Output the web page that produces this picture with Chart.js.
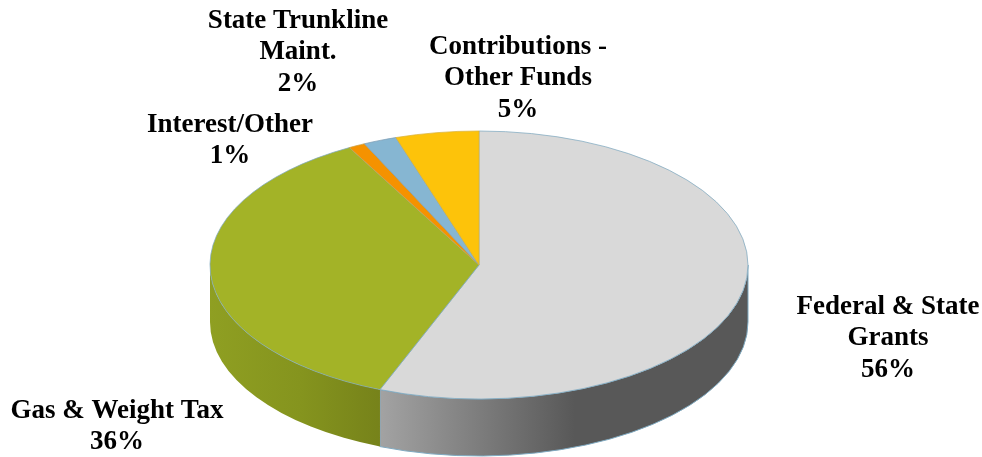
<!DOCTYPE html>
<html>
<head>
<meta charset="utf-8">
<title>Revenue sources</title>
<style>
  html, body { margin: 0; padding: 0; background: #fff; }
  #wrap { position: relative; width: 982px; height: 457px; }
</style>
<script src="https://cdn.jsdelivr.net/npm/chart.js@4"></script>
</head>
<body>
<div id="wrap"><canvas id="pie"></canvas></div>
<script>
// Revenue shares, clockwise from twelve o'clock
const categories = ['Federal & State Grants', 'Gas & Weight Tax', 'Interest/Other', 'State Trunkline Maint.', 'Contributions - Other Funds'];
const shares = [56, 36, 1, 2, 5];
const sliceColors = ['#d9d9d9', '#a3b327', '#f59200', '#86b6d2', '#fdc30a'];
const sliceBorders = ['#7fa9c0', '#7fa9c0', '#c9a24a', '#7f9fb5', '#d9b23a'];

// Wrapped name lines for each slice label
const labelLines = [
  ['Federal & State', 'Grants'],
  ['Gas & Weight Tax'],
  ['Interest/Other'],
  ['State Trunkline', 'Maint.'],
  ['Contributions -', 'Other Funds']
];

// Tilted-disc geometry
const tilt = { radius: 269, squash: 134 / 269, depth: 57 };

// Horizontal shading of the outer wall, per visible slice
const wallShades = {
  0: [[382, '#a2a2a2'], [575, '#585858'], [748, '#585858']],
  1: [[209, '#8f9f22'], [300, '#85941e'], [382, '#76821a']]
};

// Label block anchors: centre x and first baseline y
const labelAnchors = [
  { x: 888, y: 314 },
  { x: 117, y: 418 },
  { x: 230, y: 132 },
  { x: 298, y: 28 },
  { x: 518, y: 54 }
];
const lineStep = 31.3;

const tiltedPie = {
  id: 'tiltedPie',
  beforeDatasetsDraw(chart) {
    const ctx = chart.ctx;
    const arcs = chart.getDatasetMeta(0).data;
    arcs.forEach((arc, i) => {
      const stops = wallShades[i];
      if (!stops) return;
      const { x: cx, y: cy, outerRadius: rx } = arc.getProps(['x', 'y', 'outerRadius']);
      const ry = rx * tilt.squash;
      const start = Math.max(arc.startAngle, 0);
      const end = Math.min(arc.endAngle, Math.PI);
      const x0 = stops[0][0];
      const x1 = stops[stops.length - 1][0];
      const shade = ctx.createLinearGradient(x0, 0, x1, 0);
      stops.forEach(s => shade.addColorStop((s[0] - x0) / (x1 - x0), s[1]));
      ctx.save();
      ctx.beginPath();
      ctx.ellipse(cx, cy, rx, ry, 0, start, end);
      ctx.ellipse(cx, cy + tilt.depth, rx, ry, 0, end, start, true);
      ctx.closePath();
      ctx.fillStyle = shade;
      ctx.fill();
      if (i === 0) {
        ctx.strokeStyle = '#7fa9c0';
        ctx.lineWidth = 1;
        ctx.stroke();
      }
      ctx.restore();
    });
    // Flatten the pie into an ellipse about its centre
    const first = arcs[0];
    ctx.save();
    ctx.translate(first.x, first.y);
    ctx.scale(1, tilt.squash);
    ctx.translate(-first.x, -first.y);
  },
  afterDatasetsDraw(chart) {
    const ctx = chart.ctx;
    ctx.restore();
    ctx.save();
    ctx.font = 'bold 27px "Liberation Serif", "Times New Roman", serif';
    ctx.fillStyle = '#000';
    ctx.textAlign = 'center';
    ctx.textBaseline = 'alphabetic';
    labelLines.forEach((lines, i) => {
      const a = labelAnchors[i];
      const all = lines.concat(shares[i] + '%');
      all.forEach((t, k) => ctx.fillText(t, a.x, a.y + k * lineStep));
    });
    ctx.restore();
  }
};

new Chart(document.getElementById('pie'), {
  type: 'pie',
  data: {
    labels: categories,
    datasets: [{
      data: shares,
      backgroundColor: sliceColors,
      borderColor: sliceBorders,
      borderWidth: 1,
      clip: false,
      radius: tilt.radius
    }]
  },
  options: {
    responsive: true,
    maintainAspectRatio: false,
    animation: false,
    layout: { padding: { top: 73, right: 24 } },
    plugins: { legend: { display: false }, tooltip: { enabled: false } }
  },
  plugins: [tiltedPie]
});
</script>
</body>
</html>
